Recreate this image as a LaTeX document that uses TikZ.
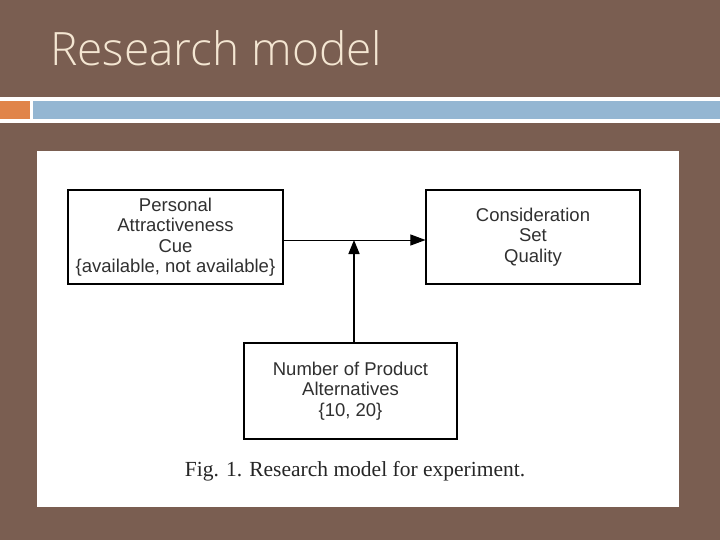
\documentclass[tikz,border=0pt]{standalone}
\usepackage{fontspec}
\setmainfont{Liberation Sans}
\newfontfamily\titlefont{Open Sans Light}
\newfontfamily\capfont{Liberation Serif}
\usetikzlibrary{arrows.meta}
\definecolor{bgbrown}{HTML}{7A5E51}
\definecolor{titlecol}{HTML}{F4E6D2}
\definecolor{bandorange}{HTML}{E0844A}
\definecolor{bandblue}{HTML}{94B6D2}
\definecolor{boxtext}{HTML}{303030}
\tikzset{
  modelbox/.style={draw=black, line width=1.1pt, minimum width=#1, align=center, inner sep=0pt, text=boxtext, font=\fontsize{18.5}{20.5}\selectfont},
}
\begin{document}
\begin{tikzpicture}[x=1pt,y=-1pt]
\useasboundingbox (0,0) rectangle (720,540);
\fill[bgbrown] (0,0) rectangle (720,540);
\node[anchor=base west, text=titlecol, font=\titlefont\fontsize{46}{52}\selectfont, inner sep=0pt] (title) at (50,66) {Research model};
\fill[white] (0,97) rectangle (720,123);
\fill[bandorange] (0,101) rectangle (30,119);
\fill[bandblue] (33,101) rectangle (720,119);
\fill[white] (37,151) rectangle (679,507);
\node[modelbox=215pt, minimum height=94pt] (pac) at (175.5,237) {Personal\\Attractiveness\\Cue\\\{available, not available\}};
\node[modelbox=214pt, minimum height=94pt] (csq) at (533,237) {Consideration\\Set\\Quality};
\node[modelbox=213pt, minimum height=96pt] (npa) at (350.5,391) {Number of Product\\Alternatives\\\{10, 20\}};
\coordinate (mid) at (354,240);
\draw[line width=1pt, -{Triangle[length=15pt,width=11pt]}] (pac.east |- mid) -- (csq.west |- mid);
\draw[line width=1.6pt, -{Triangle[length=14pt,width=11pt]}] (npa.north -| mid) -- (mid);
\node[anchor=base, font=\capfont\fontsize{21.5}{24}\selectfont, text=black!85] (cap) at (355,476) {Fig. 1. Research model for experiment.};
\end{tikzpicture}
\end{document}
